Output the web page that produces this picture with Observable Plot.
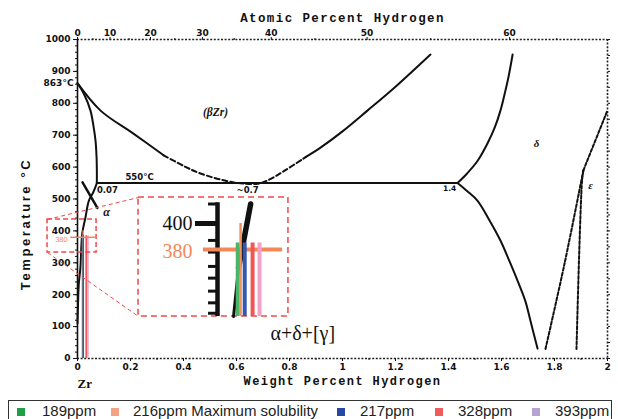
<!DOCTYPE html>
<html><head><meta charset="utf-8">
<script src="https://cdn.jsdelivr.net/npm/d3@7"></script>
<script src="https://cdn.jsdelivr.net/npm/@observablehq/plot@0.6"></script>
<style>
body{margin:0;background:#fff;}
#wrap{position:relative;width:618px;height:419px;overflow:hidden;background:#fff;}
#main{position:absolute;left:0;top:0;}
#inset{position:absolute;left:138px;top:197px;}
#legend{position:absolute;left:8px;top:400px;width:602px;height:24px;border:1.5px solid #333;font-family:"Liberation Sans",Arial,sans-serif;font-size:15px;color:#222;}
.item{position:absolute;top:1px;white-space:nowrap;}
.sw{position:absolute;top:7px;width:8px;height:8px;}
</style></head><body><div id="wrap"><div id="main"></div><div id="inset"></div><div id="legend"></div></div>
<script>
// ---------- data ----------
const weightTicks = [0, 0.2, 0.4, 0.6, 0.8, 1, 1.2, 1.4, 1.6, 1.8, 2];
const atomicTicks = [0, 10, 20, 30, 40, 50, 60];
const atomicMinor = [5, 15, 25, 35, 45, 55, 62.5];
const tempTicks = [0, 100, 200, 300, 400, 500, 600, 700, 800, 900, 1000];

// phase boundaries [wt% H, °C]
const alphaBeta = [[0,863],[0.024,830],[0.049,777],[0.06,730],[0.068,683],[0.072,630],[0.073,590],[0.073,550]];
const betaLeftSolid = [[0,863],[0.087,777],[0.211,705],[0.325,637]];
const betaDashed = [[0.325,637],[0.40,604],[0.464,580],[0.589,552],[0.68,548],[0.717,558],[0.78,588],[0.862,632]];
const betaRightSolid = [[0.862,632],[0.917,661],[1.0,712],[1.094,777],[1.2,852],[1.332,953]];
const deltaUpper = [[1.434,550],[1.47,580],[1.51,620],[1.547,674],[1.575,725],[1.596,777],[1.612,830],[1.626,881],[1.642,953]];
const deltaLower = [[1.434,550],[1.47,525],[1.509,495],[1.55,440],[1.596,370],[1.63,305],[1.66,245],[1.69,180],[1.709,119],[1.736,31]];
const eutectoid = [[0.073,550],[1.434,550]];
const solvus = [[0.073,550],[0.06,522],[0.043,495],[0.030,442],[0.018,392],[0.011,285],[0.005,235],[0.002,170],[0,110]];
const alphaLeader = [[0.019,552],[0.075,472]];
const epsLeft = [[1.766,30],[1.838,298],[1.909,590]];
const epsRight = [[1.883,30],[1.904,558],[1.909,590]];
const epsUpper = [[1.909,590],[2.0,778]];

// samples
const samplePpm = [189, 216, 217, 328, 393];
const sampleTop = [385, 400, 385, 385, 385];
const sampleLabels = ["189ppm", "216ppm Maximum solubility", "217ppm", "328ppm", "393ppm"];
const barColors = ["#4cb466", "#f4925f", "#3557b0", "#ef5656", "#f2a2c6"];
const legendColors = ["#1f9e48", "#f4a283", "#2747a0", "#ef5a5a", "#b8a2d3"];
const maxSolubilityT = 380;

// inset (magnified) data
const insetCurveLow = [[0.015,328.5],[0.0197,366]];
const insetCurveHigh = [[0.0197,366],[0.031,415]];
const insetMinor = [415, 387, 378, 367, 358, 348, 339, 331];
const insetMajor = 400;

// ---------- helpers ----------
const wt2at = w => { const h = w/1.008, z = (100-w)/91.224; return 100*h/(h+z); };
const at2wt = a => { const h = a/100, z = 1-h; return 100*h*1.008/(h*1.008 + z*91.224); };
const bars = samplePpm.map((p,i) => ({wt: p/10000, top: sampleTop[i], color: barColors[i]}));
const L = (data, o={}) => Plot.line(data, {x: d=>d[0], y: d=>d[1], stroke:"#111", strokeWidth:2, curve:"catmull-rom", ...o});
const dash = {strokeWidth:1.6, stroke:"#222", strokeDasharray:"2,1.6"};
const red = "#f04a4a";
const orange = "#f4875a";

const main = Plot.plot({
  width: 618, height: 400,
  marginTop: 39, marginRight: 11, marginBottom: 42, marginLeft: 77,
  x: {domain: [0, 2]}, y: {domain: [0, 1000]},
  style: {fontFamily: "DejaVu Sans", fontSize: "9px", fontWeight: "bold", color: "#111", background: "transparent", overflow: "visible"},
  marks: [
    // frame
    Plot.ruleY([1000], dash),
    Plot.ruleY([0], dash),
    Plot.ruleX([2], dash),
    Plot.ruleX([0], {strokeWidth:1.6, stroke:"#111"}),
    // axes
    Plot.axisX({anchor:"bottom", ticks: weightTicks, tickSize:3, tickPadding:2, tickFormat: d3.format("~g"), label:null}),
    Plot.axisX({anchor:"bottom", ticks: d3.range(0.1, 2, 0.2), tickSize:2, tickFormat: () => "", label:null}),
    Plot.axisX({anchor:"top", ticks: atomicTicks.map(at2wt), tickSize:3, tickPadding:1, tickFormat: d => String(Math.round(wt2at(d))), label:null}),
    Plot.axisX({anchor:"top", ticks: atomicMinor.map(at2wt), tickSize:2, tickFormat: () => "", label:null}),
    Plot.axisY({anchor:"left", ticks: tempTicks, tickSize:4, tickPadding:3, tickFormat: d => String(d), label:null}),
    Plot.axisY({anchor:"left", ticks: d3.range(0, 1001, 20), tickSize:2, tickFormat: () => "", label:null}),
    Plot.axisY({anchor:"right", ticks: d3.range(0, 1001, 50), tickSize:2, tickFormat: () => "", label:null}),
    Plot.text([863], {x:0, y:d=>d, text:()=>"863°C", dx:-4, textAnchor:"end"}),
    // titles
    Plot.text(["Atomic Percent Hydrogen"], {frameAnchor:"top", dy:-22, textAnchor:"middle", lineAnchor:"middle", fontFamily:"Liberation Mono", fontSize:12.5, fontWeight:"bold"}),
    Plot.text(["Weight Percent Hydrogen"], {frameAnchor:"bottom", dy:23, textAnchor:"middle", lineAnchor:"middle", fontFamily:"Liberation Mono", fontSize:12, fontWeight:"bold"}),
    Plot.text(["Temperature °C"], {frameAnchor:"left", rotate:-90, dx:-52, dy:25, textAnchor:"middle", lineAnchor:"middle", fontFamily:"Liberation Sans", fontSize:13, fontWeight:"bold"}),
    Plot.text(["Zr"], {x:0, frameAnchor:"bottom", dy:25, textAnchor:"start", lineAnchor:"middle", fontFamily:"Liberation Serif", fontSize:13, fontWeight:"bold"}),
    // phase boundaries
    L(alphaBeta),
    L(betaLeftSolid),
    L(betaDashed, {strokeDasharray:"5,3"}),
    L(betaRightSolid),
    L(deltaUpper),
    L(deltaLower),
    L(eutectoid, {curve:"linear"}),
    L(solvus),
    L(alphaLeader, {curve:"linear", strokeWidth:2.5}),
    L(epsLeft, {strokeDasharray:"3,2"}),
    L(epsRight, {strokeDasharray:"3,2"}),
    L(epsUpper, {strokeDasharray:"3,2", curve:"linear"}),
    // labels
    Plot.text(["(βZr)"], {x:0.521, y:771, fontFamily:"Liberation Serif", fontStyle:"italic", fontSize:11.5}),
    Plot.text(["550°C"], {x:0.234, y:550, dy:-6, fontSize:8.5}),
    Plot.text(["0.07"], {x:0.113, y:550, dy:7, fontSize:8.5}),
    Plot.text(["~0.7"], {x:0.642, y:550, dy:7, fontSize:8.5}),
    Plot.text(["1.4"], {x:1.404, y:550, dy:6, fontSize:7.5}),
    Plot.text(["δ"], {x:1.732, y:674, fontFamily:"Liberation Serif", fontStyle:"italic", fontSize:11}),
    Plot.text(["ε"], {x:1.936, y:542, fontFamily:"Liberation Serif", fontStyle:"italic", fontSize:11}),
    Plot.text(["α"], {x:0.11, y:458, fontFamily:"Liberation Serif", fontStyle:"italic", fontSize:12}),
    Plot.text(["α+δ+[γ]"], {x:0.728, y:78, textAnchor:"start", fontFamily:"Liberation Serif", fontWeight:"normal", fontSize:20}),
    // samples in main chart
    ...bars.map(b => Plot.ruleX([b], {x:"wt", y1:0, y2:"top", stroke:b.color, strokeWidth:1.6})),
    Plot.ruleY([maxSolubilityT], {x1:-0.026, x2:0.068, stroke:orange, strokeWidth:1.5}),
    Plot.text([maxSolubilityT], {x:-0.037, y:d=>d, dy:2, text:d=>String(d), textAnchor:"end", fill:orange, fontFamily:"Liberation Sans", fontWeight:"normal", fontSize:7.5}),
    // zoom boxes
    Plot.rect([{x1:-0.113, x2:0.072, y1:332, y2:436}], {x1:"x1", x2:"x2", y1:"y1", y2:"y2", fill:"none", stroke:red, strokeWidth:1.5, strokeDasharray:"5,3"}),
    Plot.rect([{x1:0.2302, x2:0.796, y1:131.7, y2:504.7}], {x1:"x1", x2:"x2", y1:"y1", y2:"y2", fill:"white", stroke:red, strokeWidth:1.5, strokeDasharray:"6,4"}),
    Plot.link([{x1:-0.113, y1:436, x2:0.2302, y2:504.7}, {x1:-0.113, y1:332, x2:0.2302, y2:131.7}], {x1:"x1", y1:"y1", x2:"x2", y2:"y2", stroke:red, strokeWidth:1, strokeDasharray:"4,3"})
  ]
});
document.getElementById("main").appendChild(main);

// inset
const inset = Plot.plot({
  width: 150, height: 119, margin: 0,
  x: {domain: [-0.0739, 0.0664], axis: null},
  y: {domain: [328.5, 420], axis: null},
  style: {background: "transparent", overflow: "visible"},
  marks: [
    Plot.ruleX([0], {y1:328.5, y2:416, stroke:"#111", strokeWidth:4.5}),
    Plot.ruleY([insetMajor], {x1:-0.0206, x2:0, stroke:"#111", strokeWidth:5}),
    Plot.ruleY(insetMinor, {x1:-0.0084, x2:0, stroke:"#111", strokeWidth:3}),
    Plot.ruleY([maxSolubilityT], {x1:-0.0131, x2:0.0608, stroke:orange, strokeWidth:4}),
    L(insetCurveLow, {strokeWidth:3, curve:"linear"}),
    L(insetCurveHigh, {strokeWidth:5.5, curve:"linear"}),
    ...bars.map((b,i) => Plot.ruleX([b], {x:"wt", y1:328.5, y2:"top", stroke:b.color, strokeWidth: i===1 ? 2.5 : 4, dx: i===2 ? 4 : 0})),
    Plot.text([insetMajor], {x:-0.0234, y:d=>d, text:d=>String(d), textAnchor:"end", fill:"#111", fontFamily:"Liberation Serif", fontSize:20}),
    Plot.text([maxSolubilityT], {x:-0.0234, y:d=>d, dy:2, text:d=>String(d), textAnchor:"end", fill:orange, fontFamily:"Liberation Serif", fontSize:20})
  ]
});
document.getElementById("inset").appendChild(inset);

// letter spacing for the titles
d3.select(main).selectAll("text").filter(function(){ return this.textContent === "Atomic Percent Hydrogen" || this.textContent === "Weight Percent Hydrogen"; }).style("letter-spacing", "1.4px");
d3.select(main).selectAll("text").filter(function(){ return this.textContent === "Temperature °C"; }).style("letter-spacing", "2.6px");

// legend
const swX = [8, 102, 328, 426, 523];
const txX = [33, 124, 351, 449, 546];
const leg = d3.select("#legend");
sampleLabels.forEach((lab, i) => {
  leg.append("div").attr("class","sw").style("left", swX[i]+"px").style("background", legendColors[i]);
  leg.append("div").attr("class","item").style("left", txX[i]+"px").text(lab);
});
</script></body></html>
